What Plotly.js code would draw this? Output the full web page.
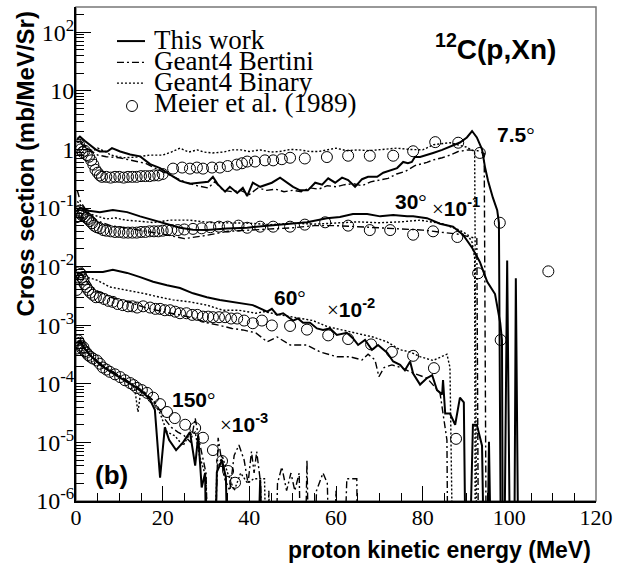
<!DOCTYPE html>
<html>
<head>
<meta charset="utf-8">
<script src="https://cdn.plot.ly/plotly-3.0.1.min.js"></script>
<style>html,body{margin:0;padding:0;background:#fff;}#chart{width:627px;height:567px;}</style>
</head>
<body>
<div id="chart"></div>
<script>
// zero-content bins (drawn below the axis floor, as in the original histogram)
const Z = 1e-9;

// ---------- 7.5 deg ----------
const e75Work = [0.3,0.9,2,3.2,4.5,5.5,7.2,8.3,10.2,12.5,14.8,17.1,19.4,21.7,24,26.3,29.1,30.5,31.6,32.8,34.4,35.5,37.2,38.5,39.5,40.8,42.5,45.2,47.1,48.7,50.1,51.7,53.5,55.2,56.8,58.2,59.8,61.4,62.8,64.4,66,67.4,69.5,70.9,72.5,74.1,75.5,76.6,77.5,78.2,79.4,81,82.4,84.5,86.3,88.6,90.2,91.4,92.5,93.7,94.4,95.1,96.2,97.2,97.6,98.2,98.6,99.5,100.4,101.0,101.5,102.3];
const v75Work = [1.5,1.65,1.4,1.2,1.0,0.92,0.92,1.05,0.92,0.82,0.76,0.56,0.48,0.37,0.29,0.26,0.27,0.28,0.34,0.25,0.19,0.23,0.18,0.22,0.16,0.27,0.23,0.27,0.33,0.27,0.23,0.20,0.20,0.27,0.25,0.32,0.27,0.33,0.30,0.23,0.31,0.34,0.34,0.40,0.44,0.48,0.61,0.58,0.61,0.74,0.74,0.80,0.87,0.98,1.10,1.31,1.6,2.06,1.6,1.0,0.49,0.29,0.15,0.092,0.056,Z,Z,0.0127,Z,Z,0.0063,Z];
const e75Bert = [0.3,1,2,3,5,7,10,13,16,19,22,25,28,30.5,32,34,36,38,40,42,44,46,48,50,52,54,56,58,60,62,64,66,68,70,72,74,76,78.2,81,82.4,84.5,86.3,88.2,90.5,92.7,94.2,94.8];
const v75Bert = [1.3,1.4,1.2,1.0,0.8,0.75,0.72,0.65,0.58,0.45,0.36,0.28,0.24,0.22,0.28,0.2,0.19,0.2,0.17,0.22,0.2,0.21,0.19,0.2,0.19,0.22,0.21,0.24,0.23,0.25,0.26,0.24,0.28,0.3,0.32,0.38,0.42,0.53,0.6,0.66,0.72,0.80,0.92,0.98,0.95,0.85,Z];
const e75Bin = [0.3,1,2,3,4,5,7,8,11,14,17,20,22,24,26,28,29.5,31.5,34,36,38,40,42.5,45,47,49.5,51.7,54,56,58,60,62.5,65,67.5,69.5,72,74,77,80,82.5,86.3,90,92,92.6];
const v75Bin = [1.4,1.3,1.1,1.0,0.95,1.05,0.9,0.8,0.72,0.74,0.8,0.8,0.9,1.05,0.9,0.98,0.9,0.87,0.9,0.98,0.98,0.92,0.98,0.9,0.92,1.0,0.98,0.92,0.92,0.98,1.05,0.95,0.98,0.95,0.98,1.0,1.05,1.0,0.98,1.2,1.3,1.1,0.92,Z];
const e75Exp = [0.3,0.7,1.1,1.5,2.0,2.5,3.0,3.5,4.0,4.5,5.0,5.5,6,7,8,9,10,11,12,13,14,15,16,17,18,19,20,22.4,24.5,26.3,27.9,29.3,31.4,33.2,35,37.1,38.3,39.5,41.3,43.6,45.5,47.5,49.4,52.8,57.9,62.8,67.8,73.2,77.8,82.9,88.2,93.2,97.8,109];
const v75Exp = [1.1,1.2,1.0,0.9,0.95,0.8,0.75,0.65,0.55,0.45,0.40,0.36,0.34,0.34,0.33,0.34,0.34,0.33,0.34,0.34,0.34,0.35,0.35,0.35,0.36,0.36,0.38,0.47,0.49,0.47,0.49,0.47,0.49,0.49,0.52,0.55,0.58,0.62,0.62,0.65,0.65,0.68,0.72,0.70,0.74,0.78,0.78,0.78,0.93,1.33,1.3,0.87,0.056,0.0083];

// ---------- 30 deg (x 10^-1) ----------
const e30Work = [0.3,0.9,3,5.5,8.5,11.8,14.8,17.8,21,24,27,30.2,34.8,39.5,44.1,48.7,53.3,57.9,60.9,63.9,67.2,70.2,73.2,76.4,77.8,81,84,87,89.3,91.4,92.5,93.2,94.9,96.7,97.9,98.3,98.6];
const v30Work = [0.09,0.10,0.09,0.085,0.092,0.085,0.072,0.062,0.054,0.046,0.0425,0.042,0.0445,0.046,0.050,0.054,0.057,0.067,0.070,0.079,0.079,0.072,0.076,0.072,0.072,0.067,0.054,0.048,0.035,0.021,0.015,0.012,0.0055,0.0034,0.0011,0.00056,Z];
const e30Bert = [0.3,1,2,3,5,8,12,16,20,25,30,35,40,45,50,55,60,65,70,75,80,85,88,91,92.5,93.0];
const v30Bert = [0.2,0.13,0.1,0.08,0.06,0.05,0.045,0.04,0.036,0.03,0.034,0.04,0.042,0.044,0.046,0.05,0.05,0.048,0.046,0.045,0.042,0.038,0.036,0.032,0.03,Z];
const e30Bin = [0.3,1,2,3,5,7,9,11.5,14,17.8,21.7,26.3,30.8,35.5,40,45,50,55,60,65,70,75,79.4,84.5,88.5,90.4,91.4,92.0,92.2];
const v30Bin = [0.13,0.11,0.09,0.08,0.072,0.065,0.068,0.062,0.06,0.0565,0.062,0.062,0.0565,0.0565,0.055,0.052,0.055,0.053,0.056,0.058,0.056,0.058,0.062,0.054,0.042,0.035,0.026,0.014,Z];
const e30Exp = [0.2,0.5,0.8,1.1,1.4,1.7,2,2.4,2.8,3.2,3.7,4.2,4.8,5.5,6.3,7,8,9,10,11,12,13,14,15,16,17,18,19,20,21,22,23.5,25,27,29,31,33,35,37.5,39.5,42.5,45.5,49.4,52.8,57.5,62.8,67.8,72.5,77.8,82.4,88,92.8,98];
const v30Exp = [0.07,0.085,0.09,0.08,0.075,0.08,0.072,0.068,0.065,0.06,0.055,0.05,0.047,0.045,0.042,0.041,0.040,0.039,0.039,0.038,0.038,0.038,0.038,0.039,0.039,0.04,0.04,0.04,0.041,0.042,0.042,0.042,0.043,0.044,0.045,0.047,0.048,0.048,0.05,0.046,0.048,0.048,0.048,0.052,0.057,0.05,0.042,0.042,0.035,0.04,0.032,0.0077,0.00056];

// ---------- 60 deg (x 10^-2) ----------
const e60Work = [0.2,1.6,3.2,6.2,8.5,11.8,14.8,17.8,21,24,27,30.2,33.2,36.2,38.5,40.8,44.1,45.2,46.4,47.8,50.1,51.2,52.4,54,55.6,57,58.6,60.2,62.5,63.9,65.1,66.7,68.3,69.7,71.8,73.2,74.8,75.9,77.1,77.8,79.4,81,82.2,83.3,84.5,84.7,85.2,86.3,87.5,88.6,89.5,90.2,91.6,92.5,93.7,94.6,95.3,96.2];
const v60Work = [0.0075,0.0081,0.0081,0.0081,0.0088,0.0078,0.0066,0.0055,0.0048,0.0043,0.0035,0.0030,0.0027,0.0025,0.0024,0.0022,0.0017,0.0019,0.0015,0.0016,0.0012,0.0013,0.0011,0.0011,0.00088,0.00083,0.00088,0.00068,0.00074,0.0006,0.00046,0.00056,0.00038,0.00046,0.00034,0.00024,0.00021,0.00017,0.00024,0.00015,0.000097,0.000125,0.00014,0.000078,0.000066,0.000116,0.000031,0.000031,0.00002,0.000058,0.000048,Z,0.00002,0.00002,0.0000088,Z,0.0000103,Z];
const e60Bert = [0.3,1,2,3,5,8,12,16,20,24,27.5,30.2,33,36,38.5,41.5,44.1,46.4,49.4,53.3,56.3,60.2,63.2,66,67.4,69,69.9,71.1,72.9,75,77.1,81,84,84.7,85.6,86.0];
const v60Bert = [0.006,0.0075,0.006,0.005,0.0038,0.003,0.0025,0.002,0.0017,0.0015,0.0013,0.0011,0.001,0.00088,0.00083,0.00074,0.00052,0.00063,0.00046,0.00046,0.00035,0.00029,0.00029,0.000255,0.00032,0.000255,0.000132,0.00019,0.00021,0.00019,0.00016,0.000125,0.00007,0.000031,0.000011,Z];
const e60Bin = [0.3,1,2.4,4.8,7.8,11.8,15.5,19.4,22.4,26.3,30.2,33.9,37.6,41.5,43.4,47.1,51.7,54.7,57.9,61.6,64.8,68.5,71.8,74.8,77.1,79.4,82.4,85.6,86.3,87.3];
const v60Bin = [0.007,0.0075,0.0066,0.0059,0.0045,0.004,0.0035,0.003,0.0027,0.0025,0.0022,0.0018,0.0018,0.0016,0.0017,0.0015,0.0013,0.0012,0.00095,0.00083,0.00074,0.00063,0.00052,0.00038,0.00035,0.00029,0.00025,0.00032,0.00019,Z];
const e60Exp = [0.2,0.5,0.8,1.1,1.4,1.7,2.0,2.4,2.8,3.3,3.9,4.6,5.5,6.5,7.5,8.5,9.6,10.8,12,13,14.1,15.5,17.1,18.3,19.4,20.5,21.7,22.9,24,25.5,26.8,28,29.3,30.5,31.6,33,34.4,35.8,37.2,38.8,40.8,42.9,45.2,49.4,53.3,58.2,62.8,68.1,72.9,77.8,82.6,87.7];
const v60Exp = [0.004,0.0065,0.008,0.0075,0.0065,0.006,0.005,0.0045,0.004,0.0036,0.0033,0.003,0.003,0.0028,0.0026,0.0025,0.0023,0.0022,0.0021,0.0021,0.0020,0.0021,0.0020,0.0019,0.0019,0.0018,0.0018,0.0017,0.0016,0.0016,0.0015,0.0015,0.0014,0.0014,0.00137,0.00137,0.00137,0.0013,0.0013,0.0012,0.00108,0.0012,0.00099,0.00097,0.00084,0.00067,0.00058,0.00047,0.00035,0.0003,0.000185,0.0000115];

// ---------- 150 deg (x 10^-3) ----------
const e150Work = [0.3,1,2,3,4.5,6,8,10,12,14,15.5,17,18.2,19.4,20.5,21.5,23.1,24.7,26.3,27.5,28.2,29,29.8,30.4,31.6,32.5,33.7,34.6,35.5,41.2,42.5,43.8];
const v150Work = [5e-4,5.5e-4,4e-4,3.2e-4,2.5e-4,2e-4,1.6e-4,1.3e-4,1.05e-4,8.5e-5,7e-5,5.5e-5,3.6e-5,2.5e-6,1.8e-5,1.1e-5,7.4e-6,1e-5,1.5e-5,4e-6,1.3e-5,1.7e-6,3e-6,Z,Z,3.1e-6,5e-6,2.5e-6,Z,Z,2.3e-6,Z];
const e150Bert = [0.3,1,2,3,4.5,6,8,10,12,14,16,18,19.4,20.5,22,23.5,25,26.5,27.5,28.5,30,31.2,32.8,34.2,35.5,36.5,37.6,38.8,39.7,40.5,41.1,41.7,42.6,43.5,44.5,45.5,46.5,47.5,48.6,49.6,50.5,51.5,52.4,53.3,54.2,55.5,57,58,59,60,61,62.5,64.8,65.2];
const v150Bert = [4.5e-4,5e-4,4e-4,3.2e-4,2.6e-4,2.1e-4,1.7e-4,1.35e-4,1.1e-4,9e-5,7e-5,5e-5,3.5e-5,2.5e-5,1.8e-5,1.5e-5,1.3e-5,1e-5,2.6e-5,1e-5,3e-6,Z,1.2e-5,2.5e-6,1.5e-6,6e-6,9e-6,5e-6,2e-6,7e-6,3e-6,7e-6,2e-6,Z,1.5e-6,Z,2e-6,3.8e-6,1.5e-6,3e-6,1.5e-6,3e-6,Z,5e-6,Z,1.5e-6,3e-6,2e-6,Z,1.5e-6,Z,2.4e-6,2.4e-6,Z];
const e150Bin = [0.3,1,2,3,4.5,6,8,10,12,13.5,14.3,15,16.4,18,19.5,21,22.8,24.7,26,27.5,28.5,30,31,32.5,33.7,35,36.5,38,39.6,41,42.5,43.5,44.5];
const v150Bin = [4.5e-4,5e-4,4e-4,3.2e-4,2.6e-4,2.1e-4,1.7e-4,1.35e-4,1.1e-4,8.8e-5,3.3e-5,8e-5,6.5e-5,5e-5,3e-5,1.5e-5,1.3e-5,8.8e-6,1.3e-5,1.5e-5,6e-6,2.5e-6,Z,3e-6,6e-6,3e-6,1.5e-6,3e-6,2e-6,2.4e-6,2.4e-6,2.4e-6,Z];
const e150Exp = [0.2,0.5,0.8,1.1,1.4,1.7,2.0,2.4,2.8,3.3,3.9,4.8,5.5,6.2,7.0,7.8,9.0,10.2,11.3,12.5,13.3,14.1,15.2,16.4,17.8,19.4,21,22.8,25.2,27.5,29.3,31.6,33.7,35.1,36.7];
const v150Exp = [4e-4,5.5e-4,5e-4,4.5e-4,4e-4,4.2e-4,3.6e-4,3.4e-4,3.1e-4,2.9e-4,2.7e-4,2.5e-4,2.2e-4,1.9e-4,1.75e-4,1.6e-4,1.45e-4,1.3e-4,1.15e-4,1.03e-4,9.5e-5,8.5e-5,7.8e-5,7.0e-5,5.8e-5,4.5e-5,3.3e-5,2.6e-5,2.0e-5,1.76e-5,1.2e-5,7.4e-6,4.8e-6,3.25e-6,2.05e-6];

// ---------- axis / legend text ----------
const xTickVals = [0,20,40,60,80,100,120];
const yTickVals = [1e-6,1e-5,1e-4,1e-3,1e-2,1e-1,1,10,100];
const yTickText = ['10<sup>-6</sup>','10<sup>-5</sup>','10<sup>-4</sup>','10<sup>-3</sup>','10<sup>-2</sup>','10<sup>-1</sup>','1','10','10<sup>2</sup>'];
const seriesNames = ['This work','Geant4 Bertini','Geant4 Binary','Meier et al. (1989)'];

const SERIF = 'Liberation Serif, Times New Roman, serif';
const SANS = 'Liberation Sans, Arial, Helvetica, sans-serif';

const styleWork = {color:'#000', width:2, dash:'solid'};
const styleBert = {color:'#000', width:1.4, dash:'7px,3px,2px,3px'};
const styleBin  = {color:'#000', width:1.4, dash:'2px,2px'};

function line(x, y, st, name){
  return {type:'scatter', mode:'lines', x:x, y:y, name:name, line:st, showlegend:false, cliponaxis:true, hoverinfo:'skip'};
}
function pts(x, y, name){
  return {type:'scatter', mode:'markers', x:x, y:y, name:name, showlegend:false, cliponaxis:true,
    marker:{symbol:'circle-open', size:11, color:'#000', line:{width:1, color:'#000'}}, hoverinfo:'skip'};
}

const data = [
  line(e75Bert, v75Bert, styleBert, seriesNames[1]),
  line(e30Bert, v30Bert, styleBert, seriesNames[1]),
  line(e60Bert, v60Bert, styleBert, seriesNames[1]),
  line(e150Bert, v150Bert, styleBert, seriesNames[1]),
  line(e75Bin, v75Bin, styleBin, seriesNames[2]),
  line(e30Bin, v30Bin, styleBin, seriesNames[2]),
  line(e60Bin, v60Bin, styleBin, seriesNames[2]),
  line(e150Bin, v150Bin, styleBin, seriesNames[2]),
  line(e75Work, v75Work, styleWork, seriesNames[0]),
  line(e30Work, v30Work, styleWork, seriesNames[0]),
  line(e60Work, v60Work, styleWork, seriesNames[0]),
  line(e150Work, v150Work, styleWork, seriesNames[0]),
  pts(e75Exp, v75Exp, seriesNames[3]),
  pts(e30Exp, v30Exp, seriesNames[3]),
  pts(e60Exp, v60Exp, seriesNames[3]),
  pts(e150Exp, v150Exp, seriesNames[3])
];

const DEG = '<span style="font-family:Liberation Serif;font-weight:normal">°</span>';
const TIMES = '<span style="font-family:Liberation Serif;font-weight:normal">×</span>';

function ann(text, x, y, xa, ya, font, extra){
  return Object.assign({text:text, x:x, y:y, xref:'paper', yref:'paper', xanchor:xa, yanchor:ya, showarrow:false, font:font}, extra||{});
}
const fBold = (s)=>({family:SANS, size:s, color:'#000', weight:'bold'});
const fSerif = (s)=>({family:SERIF, size:s, color:'#000'});

const legY = [0.933, 0.8907, 0.848, 0.8057];
const annotations = [
  ann('<sup>12</sup>C(p,Xn)', 0.927, 0.919, 'right', 'middle', fBold(28)),
  ann('7.5'+DEG, 0.806, 0.741, 'left', 'middle', fBold(21)),
  ann('30'+DEG, 0.6096, 0.606, 'left', 'middle', fBold(21)),
  ann(TIMES+'10<sup>-1</sup>', 0.68, 0.595, 'left', 'middle', fBold(21)),
  ann('60'+DEG, 0.377, 0.411, 'left', 'middle', fBold(21)),
  ann(TIMES+'10<sup>-2</sup>', 0.479, 0.39, 'left', 'middle', fBold(21)),
  ann('150'+DEG, 0.181, 0.2045, 'left', 'middle', fBold(21)),
  ann(TIMES+'10<sup>-3</sup>', 0.273, 0.157, 'left', 'middle', fBold(21)),
  ann('(b)', 0.0327, 0.0526, 'left', 'middle', fBold(26)),
  ann('proton kinetic energy (MeV)', 0.994, -0.099, 'right', 'middle', fBold(23)),
  ann('Cross section (mb/MeV/Sr)', -0.098, 0.994, 'center', 'top', fBold(24), {textangle:-90}),
  ann(seriesNames[0], 0.146, legY[0], 'left', 'middle', fSerif(27)),
  ann(seriesNames[1], 0.146, legY[1], 'left', 'middle', fSerif(27)),
  ann(seriesNames[2], 0.146, legY[2], 'left', 'middle', fSerif(27)),
  ann(seriesNames[3], 0.146, legY[3], 'left', 'middle', fSerif(27))
];

const shapes = [
  {type:'rect', xref:'paper', yref:'paper', x0:0, x1:1, y0:0, y1:1, line:{color:'#777', width:1.5}, layer:'below'},
  {type:'line', xref:'paper', yref:'paper', x0:0.0788, x1:0.1327, y0:0.931, y1:0.931, line:styleWork},
  {type:'line', xref:'paper', yref:'paper', x0:0.0788, x1:0.1327, y0:0.888, y1:0.888, line:styleBert},
  {type:'line', xref:'paper', yref:'paper', x0:0.0788, x1:0.1327, y0:0.846, y1:0.846, line:styleBin},
  {type:'circle', xref:'paper', yref:'paper', xsizemode:'pixel', ysizemode:'pixel', xanchor:0.1077, yanchor:0.7996,
   x0:-5.5, x1:5.5, y0:-5.5, y1:5.5, line:{color:'#000', width:1}}
];

const layout = {
  width:627, height:567,
  margin:{l:76, r:31, t:7, b:66, pad:0},
  paper_bgcolor:'#fff', plot_bgcolor:'#fff',
  showlegend:false,
  xaxis:{
    range:[0,120], tickvals:xTickVals, ticks:'inside', ticklen:15, tickwidth:1, tickcolor:'#000',
    showline:true, linecolor:'#000', linewidth:2, mirror:false, showgrid:false, zeroline:false,
    tickfont:{family:SERIF, size:22, color:'#000'}, ticklabelstandoff:-4,
    minor:{dtick:5, ticks:'inside', ticklen:8, tickwidth:1, tickcolor:'#000', showgrid:false}
  },
  yaxis:{
    type:'log', range:[-6, 2.43], tickvals:yTickVals, ticktext:yTickText,
    ticks:'inside', ticklen:15, tickwidth:1, tickcolor:'#000',
    showline:true, linecolor:'#000', linewidth:2, mirror:false, showgrid:false, zeroline:false,
    tickfont:{family:SERIF, size:24, color:'#000'}, ticklabelstandoff:-5,
    minor:{dtick:'D1', ticks:'inside', ticklen:8, tickwidth:1, tickcolor:'#000', showgrid:false}
  },
  annotations:annotations,
  shapes:shapes
};

Plotly.newPlot('chart', data, layout, {displayModeBar:false, staticPlot:true});
</script>
</body>
</html>
